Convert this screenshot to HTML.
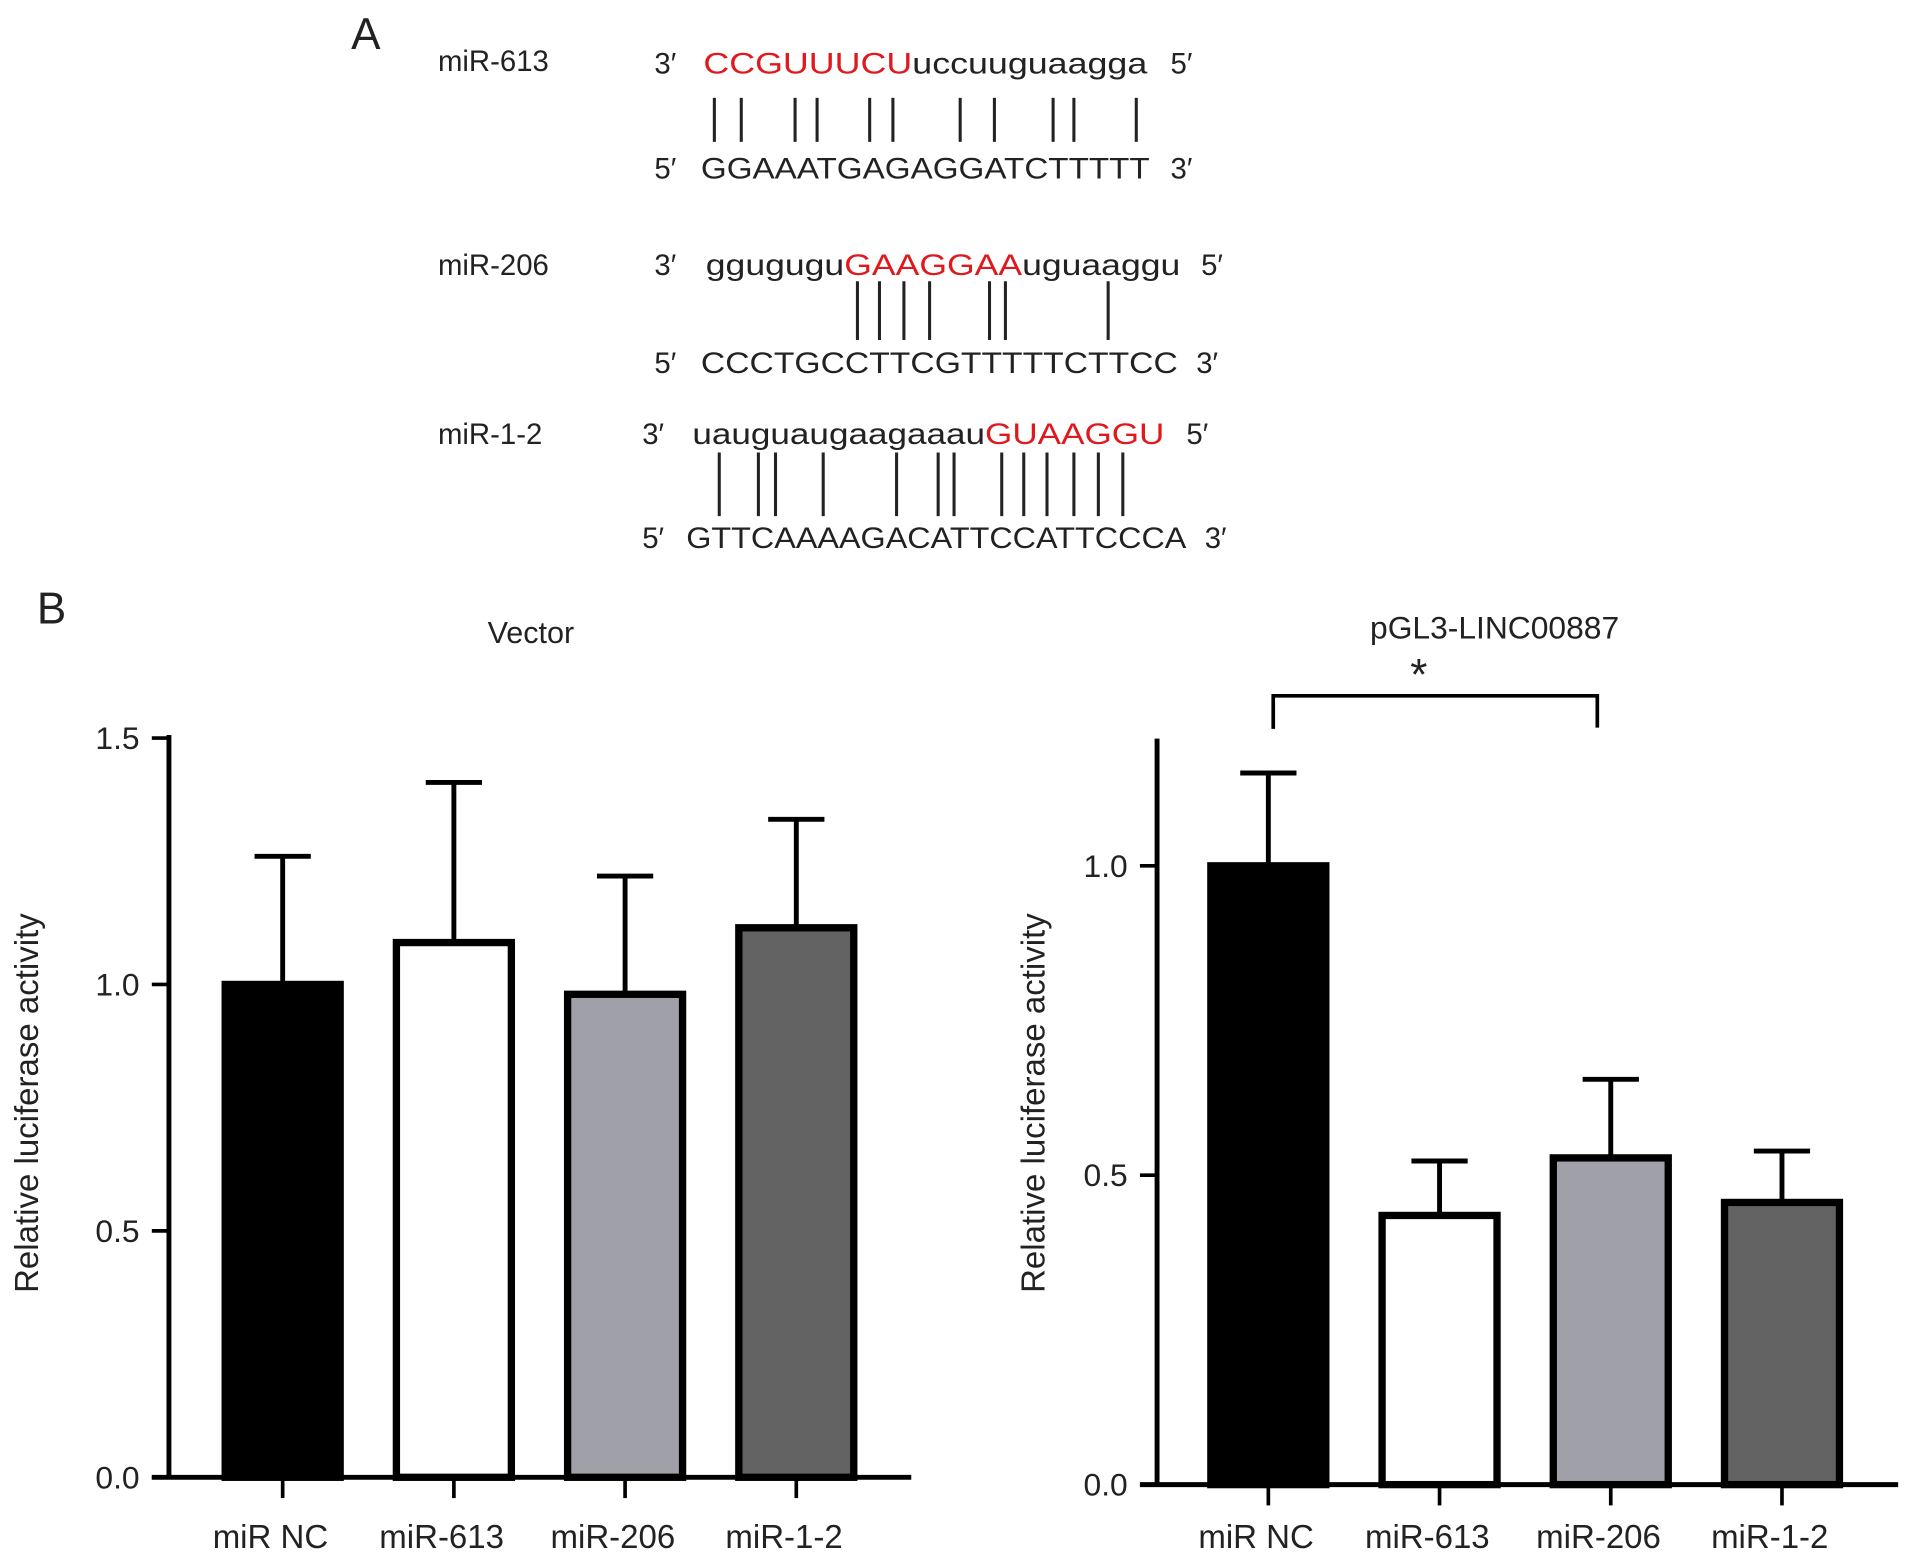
<!DOCTYPE html>
<html><head><meta charset="utf-8"><style>
html,body{margin:0;padding:0;background:#fff;}
svg{display:block;font-family:"Liberation Sans",sans-serif;}
</style></head><body>
<svg id="fig" width="1913" height="1558" viewBox="0 0 1564 1274" xmlns="http://www.w3.org/2000/svg">
<g font-size="24" fill="#222">
<text x="287" y="40" font-size="36">A</text>
<text x="358" y="58">miR-613</text>
<text x="535" y="60">3′</text>
<text x="575" y="60" textLength="363" lengthAdjust="spacingAndGlyphs"><tspan fill="#e0191e">CCGUUUCU</tspan>uccuuguaagga</text>
<text x="957" y="60">5′</text>
<text x="535" y="146">5′</text>
<text x="573" y="146" textLength="367" lengthAdjust="spacingAndGlyphs">GGAAATGAGAGGATCTTTTT</text>
<text x="957" y="146">3′</text>

<text x="358" y="225">miR-206</text>
<text x="535" y="225">3′</text>
<text x="577" y="225" textLength="388" lengthAdjust="spacingAndGlyphs">ggugugu<tspan fill="#e0191e">GAAGGAA</tspan>uguaaggu</text>
<text x="982" y="225">5′</text>
<text x="535" y="305">5′</text>
<text x="573" y="305" textLength="390" lengthAdjust="spacingAndGlyphs">CCCTGCCTTCGTTTTTCTTCC</text>
<text x="978" y="305">3′</text>

<text x="358" y="363">miR-1-2</text>
<text x="525" y="363">3′</text>
<text x="566" y="363" textLength="386" lengthAdjust="spacingAndGlyphs">uauguaugaagaaau<tspan fill="#e0191e">GUAAGGU</tspan></text>
<text x="970" y="363">5′</text>
<text x="525" y="448">5′</text>
<text x="561" y="448" textLength="409" lengthAdjust="spacingAndGlyphs">GTTCAAAAGACATTCCATTCCCA</text>
<text x="985" y="448">3′</text>
<g id="pairs" stroke="#222" stroke-width="2.5"></g>
</g>
<text x="30" y="510" font-size="36" fill="#222">B</text>
<g id="c1"></g>
<g id="c2"></g>
</svg>
<script>
const categories=["miR NC","miR-613","miR-206","miR-1-2"];
const vectorValues=[1.0,1.085,0.98,1.115];
const vectorErrors=[0.26,0.325,0.24,0.22];
const pglValues=[1.0,0.435,0.528,0.456];
const pglErrors=[0.15,0.088,0.127,0.083];
const vectorTicks=["0.0","0.5","1.0","1.5"];
const pglTicks=["0.0","0.5","1.0"];
const fills=["#000","#fff","#a0a0a8","#636363"];
const NS="http://www.w3.org/2000/svg";
function mk(p,t,a){const e=document.createElementNS(NS,t);for(const k in a)e.setAttribute(k,a[k]);p.appendChild(e);return e;}
const pg=document.getElementById('pairs');
[[80,116,[584,606,650,668,711,730,785,813,861,878,929]],[230,278,[701,719,739,760,809,822,906]],[370,422,[588,620,634,673,733,767,780,819,837,856,878,898,918]]].forEach(r=>r[2].forEach(x=>{const l=mk(pg,'line',{x1:x,x2:x,y1:r[0],y2:r[1]});}));
function chart(g,o){
  const y=v=>o.y0-(v)*o.unit;
  const ax=mk(g,'path',{d:`M${o.ax} ${o.top}V${o.y0+2}M${o.ax-14} ${o.y0}H${o.xEnd}`,stroke:'#000','stroke-width':4,fill:'none'});
  
  o.ticks.forEach(t=>{const v=parseFloat(t);
    const l=mk(g,'line',{x1:o.ax-14,x2:o.ax,y1:y(v),y2:y(v),stroke:'#000','stroke-width':3});
    
    const tx=mk(g,'text',{x:o.ax-24,y:y(v)+9,'text-anchor':'end','font-size':26,fill:'#222'});tx.textContent=t;
    });
  categories.forEach((c,i)=>{const cx=o.x0+i*140;
    const top=y(o.vals[i]),et=y(o.vals[i]+o.errs[i]);
    const el=mk(g,'path',{d:`M${cx} ${top}V${et}M${cx-23} ${et}H${cx+23}`,stroke:'#000','stroke-width':4,fill:'none'});
    
    const r=mk(g,'rect',{x:cx-47,y:top,width:94,height:o.y0-top,fill:fills[i],stroke:'#000','stroke-width':6});
    
    const tk=mk(g,'line',{x1:cx,x2:cx,y1:o.y0,y2:o.y0+17,stroke:'#000','stroke-width':3});
    
    const lb=mk(g,'text',{x:cx-10,y:1266,'text-anchor':'middle','font-size':27,fill:'#222'});lb.textContent=c;
    });
  const tt=mk(g,'text',{x:o.tx,y:o.ty,'text-anchor':'middle','font-size':o.tfs,fill:'#222'});tt.textContent=o.title;
  
  const yl=mk(g,'text',{transform:`translate(${o.ylx},902) rotate(-90)`,'text-anchor':'middle','font-size':27,fill:'#222'});yl.textContent='Relative luciferase activity';
  
  return y;
}
chart(document.getElementById('c1'),{ax:138,y0:1208,unit:403,top:601,xEnd:745,x0:231,vals:vectorValues,errs:vectorErrors,ticks:vectorTicks,title:'Vector',tx:434,ty:526,tfs:25,ylx:31});
const g2=document.getElementById('c2');
chart(g2,{ax:946,y0:1214,unit:506,top:604,xEnd:1552,x0:1037,vals:pglValues,errs:pglErrors,ticks:pglTicks,title:'pGL3-LINC00887',tx:1222,ty:522,tfs:26,ylx:854});
const br=mk(g2,'path',{d:'M1041 596V569H1306V595',stroke:'#000','stroke-width':3,fill:'none'});

const st=mk(g2,'text',{x:1160,y:564,'text-anchor':'middle','font-size':36,fill:'#222'});st.textContent='*';

</script>
</body></html>
